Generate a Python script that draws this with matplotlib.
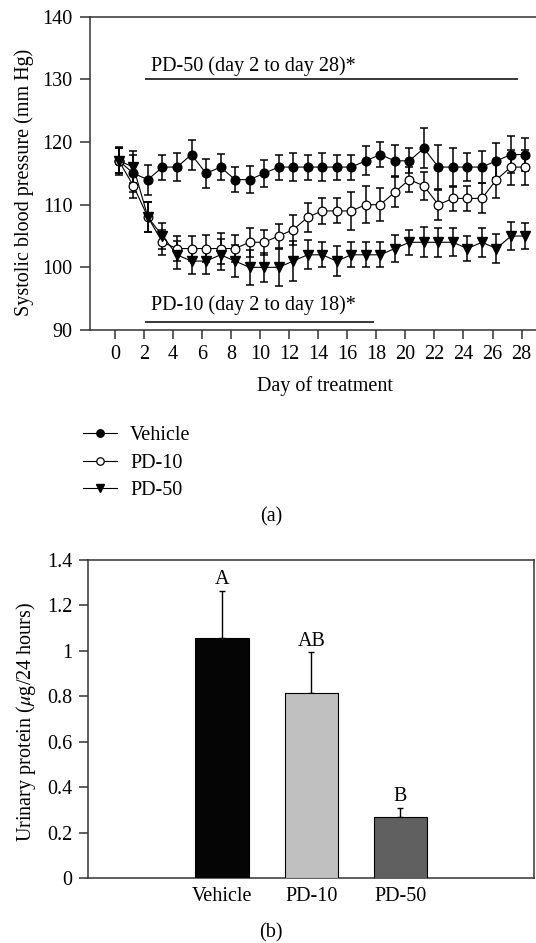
import numpy as np
import matplotlib
matplotlib.use('Agg')
import matplotlib.pyplot as plt
from matplotlib.ticker import FuncFormatter

plt.rcParams['font.family'] = ['Liberation Serif', 'DejaVu Serif']
plt.rcParams['mathtext.fontset'] = 'stix'

# ---------------- data: panel (a) ----------------
days = np.arange(29)
vehicle = [117, 115, 114, 116, 116, 118, 115, 116, 114, 114, 115, 116, 116, 116, 116,
           116, 116, 117, 118, 117, 117, 119, 116, 116, 116, 116, 117, 118, 118]
vehicle_err = [2.2, 3.0, 2.4, 2.0, 2.2, 2.4, 2.3, 2.1, 2.0, 2.2, 2.2, 2.0, 2.2, 2.0, 2.3,
               2.0, 2.0, 2.3, 2.0, 2.5, 2.0, 3.2, 3.5, 3.1, 2.3, 2.6, 2.8, 3.0, 2.6]
pd10 = [117, 113, 108, 104, 103, 103, 103, 103, 103, 104, 104, 105, 106, 108, 109,
        109, 109, 110, 110, 112, 114, 113, 110, 111, 111, 111, 114, 116, 116]
pd10_err = [2.0, 2.0, 2.4, 2.0, 2.0, 2.0, 2.2, 2.5, 2.2, 2.3, 2.0, 1.9, 2.4, 2.3, 2.1,
            2.0, 3.0, 3.0, 2.6, 2.4, 2.0, 2.2, 2.4, 2.0, 2.0, 2.4, 3.0, 2.8, 2.8]
pd50 = [117, 116, 108, 105, 102, 101, 101, 102, 101, 100, 100, 100, 101, 102, 102,
        101, 102, 102, 102, 103, 104, 104, 104, 104, 103, 104, 103, 105, 105]
pd50_err = [2.0, 2.5, 2.4, 2.1, 2.2, 2.0, 2.0, 2.5, 2.6, 2.8, 2.3, 3.0, 3.2, 2.3, 2.0,
            2.4, 2.0, 2.0, 2.0, 2.2, 2.0, 2.4, 2.3, 2.2, 2.0, 2.3, 2.3, 2.3, 2.0]
series_labels = ['Vehicle', 'PD-10', 'PD-50']

# ---------------- data: panel (b) ----------------
groups = ['Vehicle', 'PD-10', 'PD-50']
protein = [1.055, 0.815, 0.27]
protein_err = [0.21, 0.18, 0.04]
letters = ['A', 'AB', 'B']
bar_colors = ['#050505', '#c0c0c0', '#5f605f']

FS = 14.5
W, H = 536, 943
fig = plt.figure(figsize=(W / 100, H / 100), dpi=100)

# ---------------- panel (a) ----------------
ax = fig.add_axes([90 / W, 1 - 330 / H, 460.6 / W, 313.3 / H])
xoff = 0.27
x = days + xoff
ekw = dict(fmt='none', ecolor='black', elinewidth=1.1, capsize=3.0, capthick=1.1)
ax.errorbar(x, vehicle, yerr=vehicle_err, zorder=2, **ekw)
ax.errorbar(x, pd10, yerr=pd10_err, zorder=2, **ekw)
ax.errorbar(x, pd50, yerr=pd50_err, zorder=2, **ekw)
h1, = ax.plot(x, vehicle, '-', color='black', lw=0.8, marker='o', ms=6.3,
              mfc='black', mec='black', zorder=3)
h2, = ax.plot(x, pd10, '-', color='black', lw=0.8, marker='o', ms=6.3,
              mfc='white', mec='black', mew=0.9, zorder=4)
h3, = ax.plot(x, pd50, '-', color='black', lw=0.8, marker='v', ms=6.5,
              mfc='black', mec='black', zorder=5)

ax.hlines(130, 2.1, 27.75, color='black', lw=1.1)
ax.text(2.5, 131.3, 'PD-50 (day 2 to day 28)*', fontsize=FS, va='baseline', ha='left')
ax.hlines(91.3, 2.1, 17.85, color='black', lw=1.1)
ax.text(2.5, 93.2, 'PD-10 (day 2 to day 18)*', fontsize=FS, va='baseline', ha='left')

ax.set_xlim(-1.72, 30)
ax.set_ylim(90, 140)
ax.set_xticks(np.arange(0, 29, 2))
ax.set_yticks(np.arange(90, 141, 10))
ax.tick_params(axis='both', direction='out', labelsize=FS, width=1.1, color='#333333')
ax.tick_params(axis='y', length=7, pad=5.5)
ax.tick_params(axis='x', length=6.5, pad=4.5)
ax.tick_params(top=False, right=False)
for s in ax.spines.values():
    s.set_linewidth(1.1)
    s.set_color('#333333')
ax.set_xlabel('Day of treatment', fontsize=FS)
ax.xaxis.set_label_coords((325 - 90) / 460.6, (330 - 386) / 313.3)
ax.xaxis.label.set_va('center')
ax.set_ylabel('Systolic blood pressure (mm Hg)', fontsize=FS)
ax.yaxis.set_label_coords((24 - 90) / 460.6, 0.47)
ax.yaxis.label.set_va('center')

fig.legend([h1, h2, h3], series_labels, loc='upper left',
           bbox_to_anchor=(82.7 / W, 1 - 426 / H), frameon=False,
           borderpad=0, borderaxespad=0, fontsize=FS, handlelength=1.69,
           handletextpad=0.66, labelspacing=0.42, markerscale=0.85)

fig.text(271.7 / W, 1 - 516.7 / H, '(a)', fontsize=FS, ha='center', va='center')

# ---------------- panel (b) ----------------
ax2 = fig.add_axes([88.3 / W, 1 - 878.3 / H, 446 / W, 318.3 / H])
pos = np.arange(1, len(groups) + 1)
ax2.bar(pos, protein, width=0.6, color=bar_colors, edgecolor='black', lw=0.8, zorder=3)
ax2.errorbar(pos, protein, yerr=[np.zeros(len(protein)), protein_err], fmt='none',
             ecolor='black', elinewidth=1.0, capsize=2.4, capthick=1.0, zorder=2)
for p, v, e, t in zip(pos, protein, protein_err, letters):
    ax2.text(p, v + e + 0.028, t, fontsize=FS, ha='center', va='baseline')

ax2.set_xlim(-0.5, 4.5)
ax2.set_ylim(0, 1.4)
ax2.set_xticks(pos)
ax2.set_xticklabels(groups)
ax2.set_yticks(np.arange(0, 1.41, 0.2))
ax2.yaxis.set_major_formatter(FuncFormatter(lambda v, _: f'{v:.1f}'.rstrip('0').rstrip('.') if v else '0'))
ax2.tick_params(axis='both', direction='out', labelsize=FS, width=1.1, color='#333333')
ax2.tick_params(axis='y', length=6.5, pad=5)
ax2.tick_params(axis='x', length=0, pad=6.5)
for s in ax2.spines.values():
    s.set_linewidth(1.1)
    s.set_color('#333333')
ax2.set_ylabel(r'Urinary protein ($\mu$g/24 hours)', fontsize=FS)
ax2.yaxis.set_label_coords((25.9 - 88.3) / 446, 0.49)
ax2.yaxis.label.set_va('center')

fig.text(270.7 / W, 1 - 933 / H, '(b)', fontsize=FS, ha='center', va='center')

fig.savefig('out.png', dpi=100)
